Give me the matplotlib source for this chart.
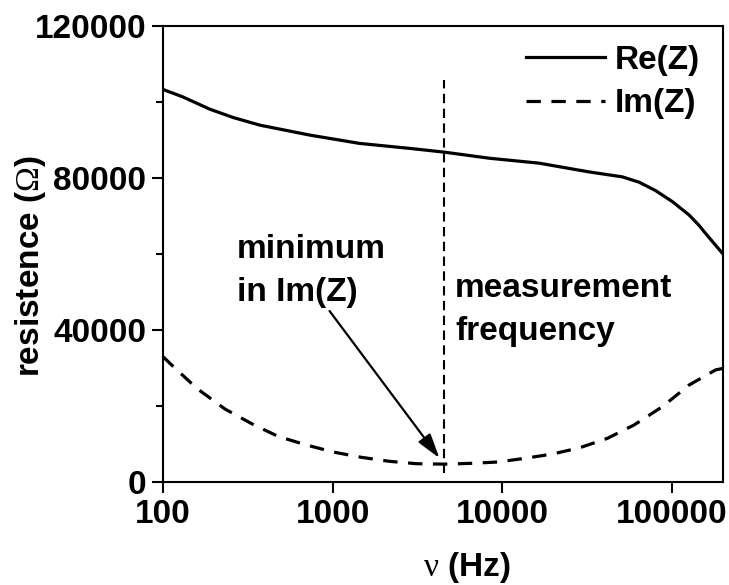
import matplotlib
matplotlib.use("Agg")
import matplotlib.pyplot as plt
from matplotlib.ticker import FixedLocator, NullLocator, NullFormatter

plt.rcParams['font.family'] = ['Liberation Sans', 'DejaVu Sans']
plt.rcParams['mathtext.fontset'] = 'custom'
plt.rcParams['mathtext.rm'] = 'Liberation Serif'

# Data
re_freq = [100, 130, 189, 260, 373, 732, 1442, 2838, 4560, 8400, 16500, 32500, 51000,
           64000, 80000, 100500, 126000, 144000, 158000, 200000]
re_vals = [103300, 101400, 98100, 95900, 93900, 91300, 89100, 87800, 86800, 85200, 83900,
           81600, 80300, 78900, 76700, 73800, 70300, 67600, 65400, 60000]

im_freq = [100, 110, 158, 232, 333, 477, 700, 1005, 1475, 2163, 3105, 4560, 6460, 9400,
           13600, 19800, 28700, 41700, 59800, 87700, 126000, 181000, 200000]
im_vals = [33000, 31200, 24660, 19200, 15350, 12000, 9740, 7900, 6500, 5440, 4820, 4700,
           4900, 5260, 6230, 7370, 9030, 11500, 15000, 19800, 25500, 29500, 29900]

meas_freq = 4560
meas_range = [2400, 105800]

arrow_tail = (959, 45000)
arrow_head = (4260, 6300)

x_ticks = [100, 1000, 10000, 100000]
x_ticklabels = ['100', '1000', '10000', '100000']
y_ticks = [0, 40000, 80000, 120000]
y_minor = [20000, 60000, 100000]

W, H = 729, 585
FS = 24
fig = plt.figure(figsize=(W/100, H/100), dpi=100)
ax = fig.add_axes([163/W, 1 - 482/H, (723-163)/W, (482-26)/H])

lw = 2.3
ax.plot(re_freq, re_vals, color='black', lw=lw, label='Re(Z)')
ax.plot(im_freq, im_vals, color='black', lw=lw, dashes=(4.5, 3.3), label='Im(Z)')
ax.plot([meas_freq, meas_freq], meas_range, color='black', lw=1.5, dashes=(4.5, 2.6))

ax.annotate('', xy=arrow_head, xytext=arrow_tail,
            arrowprops=dict(arrowstyle='-|>,head_length=1.5,head_width=0.45', color='black', lw=1.6,
                            shrinkA=0, shrinkB=0))

ax.set_xscale('log')
ax.set_xlim(100, 200000)
ax.set_ylim(0, 120000)
ax.xaxis.set_major_locator(FixedLocator(x_ticks))
ax.set_xticklabels(x_ticklabels)
ax.xaxis.set_minor_locator(NullLocator())
ax.xaxis.set_minor_formatter(NullFormatter())
ax.yaxis.set_major_locator(FixedLocator(y_ticks))
ax.yaxis.set_minor_locator(FixedLocator(y_minor))
ax.set_yticklabels([str(v) for v in y_ticks])

for s in ax.spines.values():
    s.set_linewidth(1.5)
ax.tick_params(which='major', direction='out', length=8, width=1.5, labelsize=FS, pad=4)
ax.tick_params(which='minor', direction='out', length=5, width=1.5)
for lab in ax.get_xticklabels() + ax.get_yticklabels():
    lab.set_fontweight('bold')

fig.text(467/W, 1 - 576/H, r'$\mathrm{\nu}$ (Hz)', fontsize=FS, fontweight='bold',
         ha='center', va='baseline')
fig.text(31/W, 1 - 266/H, r'resistence ($\mathrm{\Omega}$)', fontsize=FS, fontweight='bold',
         ha='center', va='center', rotation=90)

def ftext(x, y, s):
    fig.text(x/W, 1 - y/H, s, fontsize=FS, fontweight='bold', ha='left', va='baseline')

ftext(237, 258, 'minimum')
ftext(237, 301, 'in Im(Z)')
ftext(455, 297, 'measurement')
ftext(455, 340, 'frequency')

leg = ax.legend(loc='upper right', bbox_to_anchor=(1.0, 1.01), frameon=False,
                prop={'weight': 'bold', 'size': FS},
                handlelength=2.35, handletextpad=0.3, borderaxespad=0.3, labelspacing=0.38)

fig.savefig('out.png', dpi=100)
